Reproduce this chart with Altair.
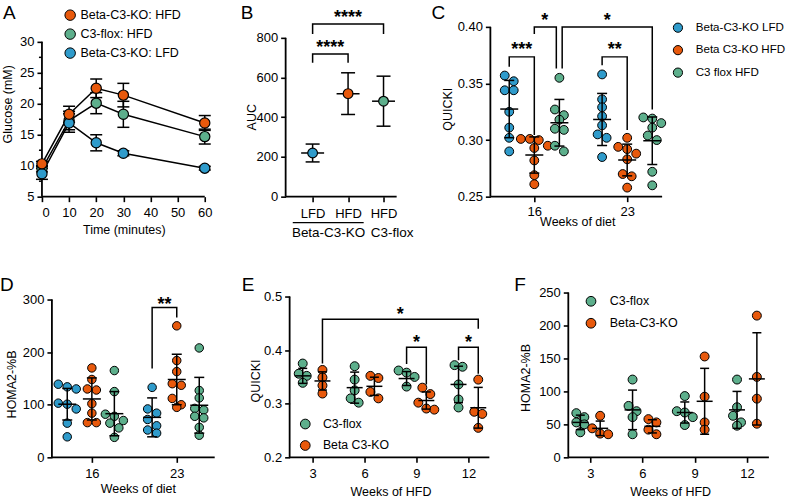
import altair as alt
import pandas as pd

FONT = "Liberation Sans"
BLUE, ORANGE, GREEN = "#2F9BCB", "#E8590C", "#5DAF8C"

# ---------------- Panel A : glucose tolerance ----------------
a_time = [0, 10, 20, 30, 60]
a_xticks = [0, 10, 20, 30, 40, 50, 60]
a_series = ["Beta-C3-KO: HFD", "C3-flox: HFD", "Beta-C3-KO: LFD"]
a_ko_hfd_mean = [10.3, 18.3, 22.5, 21.4, 16.9]
a_ko_hfd_sem = [0.4, 1.3, 1.5, 1.9, 1.2]
a_flox_hfd_mean = [9.5, 17.3, 20.1, 18.3, 14.7]
a_flox_hfd_sem = [0.5, 1.5, 1.7, 2.1, 1.2]
a_ko_lfd_mean = [8.7, 16.9, 13.7, 12.0, 9.6]
a_ko_lfd_sem = [0.9, 1.5, 1.3, 0.4, 0.3]

# ---------------- Panel B : AUC ----------------
b_labels = ["LFD", "HFD", "HFD"]
b_series = ["Beta-C3-KO: LFD", "Beta-C3-KO: HFD", "C3-flox: HFD"]
b_mean = [220, 519, 481]
b_sd = [45, 105, 126]
b_sig = ["****", "****"]

# ---------------- Panel C : QUICKI by diet ----------------
c_weeks = ["16", "23"]
c_series = ["Beta-C3-KO LFD", "Beta C3-KO HFD", "C3 flox HFD"]
c_ko_lfd_16 = [0.357, 0.352, 0.344, 0.344, 0.325, 0.311, 0.302, 0.290]
c_ko_hfd_16 = [0.301, 0.301, 0.300, 0.295, 0.293, 0.282, 0.269, 0.261]
c_flox_16 = [0.355, 0.327, 0.322, 0.318, 0.310, 0.309, 0.295, 0.290]
c_ko_lfd_23 = [0.358, 0.336, 0.329, 0.321, 0.313, 0.305, 0.302, 0.285]
c_ko_hfd_23 = [0.302, 0.294, 0.292, 0.288, 0.283, 0.270, 0.268, 0.258]
c_flox_23 = [0.320, 0.319, 0.315, 0.311, 0.304, 0.300, 0.272, 0.260]
c_mean = [0.3274, 0.2868, 0.3153, 0.3182, 0.2824, 0.2994]
c_sd = [0.0253, 0.0160, 0.0206, 0.0230, 0.0140, 0.0210]
c_sig = ["***", "*", "*", "**"]

# ---------------- Panel D : HOMA2-%B by diet ----------------
d_weeks = ["16", "23"]
d_ko_lfd_16 = [139, 134, 130, 103, 101, 92, 65, 39]
d_ko_hfd_16 = [170, 148, 130, 128, 102, 84, 66, 66]
d_flox_16 = [165, 125, 82, 78, 70, 65, 56, 38]
d_ko_lfd_23 = [133, 92, 84, 72, 60, 52, 46]
d_ko_hfd_23 = [250, 184, 163, 140, 137, 112, 100, 95]
d_flox_23 = [208, 127, 113, 93, 90, 78, 75, 57, 42]
d_mean = [101, 111, 83, 76, 148, 99]
d_sd = [30, 40, 42, 37, 48, 53]
d_sig = ["**"]

# ---------------- Panel E : QUICKI by weeks of HFD ----------------
e_weeks = ["3", "6", "9", "12"]
e_series = ["C3-flox", "Beta C3-KO"]
e_flox = [[0.375, 0.356, 0.352, 0.339], [0.370, 0.345, 0.325, 0.310, 0.302],
          [0.362, 0.358, 0.350, 0.332], [0.372, 0.369, 0.336, 0.308, 0.293]]
e_ko = [[0.363, 0.349, 0.334, 0.319], [0.352, 0.348, 0.322, 0.310],
        [0.330, 0.318, 0.302, 0.291, 0.289], [0.345, 0.285, 0.281, 0.255]]
e_flox_mean = [0.352, 0.330, 0.347, 0.336]
e_flox_sd = [0.014, 0.029, 0.013, 0.034]
e_ko_mean = [0.3425, 0.3325, 0.306, 0.2925]
e_ko_sd = [0.017, 0.017, 0.016, 0.038]
e_sig = ["*", "*", "*"]

# ---------------- Panel F : HOMA2-%B by weeks of HFD ----------------
f_weeks = ["3", "6", "9", "12"]
f_series = ["C3-flox", "Beta-C3-KO"]
f_flox = [[67, 61, 53, 50, 38], [118, 78, 70, 61, 35], [93, 70, 68, 61, 49], [118, 76, 63, 53, 48]]
f_ko = [[63, 44, 36, 35], [58, 53, 42, 35], [153, 92, 53, 42], [215, 122, 89, 51]]
f_flox_mean = [53, 72, 68, 72]
f_flox_sd = [11, 30, 16, 28]
f_ko_mean = [44, 47, 85, 119]
f_ko_sd = [11, 10, 50, 70]


# ---------------- helpers ----------------
def ax(**kw):
    base = dict(domain=False, grid=False, tickColor="black", tickWidth=1.6, tickSize=5,
                labelColor="black", labelFont=FONT, labelFontSize=13, titleFont=FONT,
                titleFontSize=12.5, titleFontWeight="normal", titleColor="black",
                titleBaseline="middle")
    base.update(kw)
    return alt.Axis(**base)


def swarm(vals, ppu_y, binh=7.0, sp=8.0):
    """GraphPad-like scatter: points closer than binh px share a row, spread symmetrically"""
    order = sorted(range(len(vals)), key=lambda i: -vals[i])
    offs = [0.0] * len(vals)
    groups, cur = [], []
    for i in order:
        if cur and (vals[cur[0]] - vals[i]) * ppu_y >= binh:
            groups.append(cur)
            cur = []
        cur.append(i)
    if cur:
        groups.append(cur)
    for g in groups:
        n = len(g)
        for k, i in enumerate(g):
            offs[i] = (k - (n - 1) / 2) * sp
    return offs


def scale(lo, hi):
    return alt.Scale(domain=[lo, hi], nice=False, zero=False)


class P:
    """holds a panel's scales and axes so every layer shares them"""
    def __init__(self, xs, ys, xa, ya):
        self.xs, self.ys, self.xa, self.ya = xs, ys, xa, ya

    def X(self, f):
        return alt.X(f, scale=self.xs, axis=self.xa)

    def Y(self, f):
        return alt.Y(f, scale=self.ys, axis=self.ya)


def axis_frame(p, x0, x1, y0, y1):
    df = pd.DataFrame({"x": [x0, x0], "x2": [x1, x0], "y": [y0, y0], "y2": [y0, y1]})
    return alt.Chart(df).mark_rule(color="black", strokeWidth=1.8).encode(
        x=p.X("x:Q"), x2="x2:Q", y=p.Y("y:Q"), y2="y2:Q")


def letter(t, dx, dy):
    return alt.Chart(pd.DataFrame({"t": [t]})).mark_text(
        font=FONT, fontSize=19, align="left", baseline="alphabetic", color="black"
    ).encode(x=alt.value(dx), y=alt.value(dy), text="t:N")


def brackets_layer(p, xs_list, ys_list):
    rows = []
    for bi, (bx, by) in enumerate(zip(xs_list, ys_list)):
        for oi, (px, py) in enumerate(zip(bx, by)):
            rows.append({"bx": px, "by": py, "bid": bi, "ord": oi})
    return alt.Chart(pd.DataFrame(rows)).mark_line(color="black", strokeWidth=1.5).encode(
        x=p.X("bx:Q"), y=p.Y("by:Q"), detail="bid:N", order="ord:Q")


def stars_layer(p, sx, sy, st):
    return alt.Chart(pd.DataFrame({"sx": sx, "sy": sy, "st": st})).mark_text(
        font=FONT, fontSize=18, fontWeight="bold", align="center", baseline="alphabetic",
        color="black").encode(x=p.X("sx:Q"), y=p.Y("sy:Q"), text="st:N")


def tick(p, df, yf, w, xf="x:Q"):
    return alt.Chart(df).mark_tick(orient="horizontal", size=w, thickness=1.5, color="black",
                                   opacity=1).encode(x=p.X(xf), y=p.Y(yf))


def scatter_panel(p, pts, summ, fill_scale, legend, w, h, frame, size,
                  mean_w=18, cap_w=10, extra=()):
    points = alt.Chart(pts).mark_circle(size=size, stroke="black", strokeWidth=1, opacity=1).encode(
        x=p.X("x:Q"), y=p.Y("v:Q"), fill=alt.Fill("grp:N", scale=fill_scale, legend=legend))
    err = alt.Chart(summ).mark_rule(color="black", strokeWidth=1.5).encode(
        x=p.X("x:Q"), y=p.Y("lo:Q"), y2="hi:Q")
    return alt.layer(frame, points, err, tick(p, summ, "lo:Q", cap_w), tick(p, summ, "hi:Q", cap_w),
                     tick(p, summ, "mean:Q", mean_w), *extra).properties(width=w, height=h)


def build_points(groups, centers, ppu_x, ppu_y, names, sp=8.0):
    rows = []
    for vals, cx, nm in zip(groups, centers, names):
        offs = swarm(vals, ppu_y, sp=sp)
        for v, o in zip(vals, offs):
            rows.append({"x": cx + o / ppu_x, "v": v, "grp": nm})
    return pd.DataFrame(rows)


def build_summary(means, sds, centers, names):
    return pd.DataFrame({"x": centers, "mean": means,
                         "lo": [m - s for m, s in zip(means, sds)],
                         "hi": [m + s for m, s in zip(means, sds)], "grp": names})


def legend(x, y, size, row_pad, off, fs=12.5):
    return alt.Legend(orient="none", legendX=x, legendY=y, title=None, symbolType="circle",
                      symbolSize=size, symbolStrokeColor="black", symbolStrokeWidth=1,
                      symbolOpacity=1, labelFont=FONT, labelFontSize=fs, labelColor="black",
                      rowPadding=row_pad, labelOffset=off, padding=0)


# layout: column origins 42 / 286 / 491, row origins 26 / 292
W1, W2, W3 = 244, 205, 279
H1, H2 = 170, 165

# ================= Panel A =================
pA = P(scale(0, W1 / 2.717), scale(5, 32.42),
       ax(values=a_xticks, title="Time (minutes)", titleX=82, titleY=33,
          labelBaseline="middle", labelPadding=11),
       ax(values=[5, 10, 15, 20, 25, 30], title="Glucose (mM)", titleX=-34, titleY=77,
          labelPadding=3))
rowsA = []
for nm, mm, ss in [(a_series[1], a_flox_hfd_mean, a_flox_hfd_sem),
                   (a_series[2], a_ko_lfd_mean, a_ko_lfd_sem),
                   (a_series[0], a_ko_hfd_mean, a_ko_hfd_sem)]:
    for t, m, s in zip(a_time, mm, ss):
        rowsA.append({"x": t, "grp": nm, "mean": m, "lo": m - s, "hi": m + s})
dfA = pd.DataFrame(rowsA)
A_minor = alt.Chart(pd.DataFrame({"mx": [0] * 5, "my": [7.5, 12.5, 17.5, 22.5, 27.5]})).mark_tick(
    orient="horizontal", size=3, thickness=1.5, xOffset=-1.5, color="black", opacity=1).encode(
    x=pA.X("mx:Q"), y=pA.Y("my:Q"))
A_line = alt.Chart(dfA).mark_line(color="black", strokeWidth=1.5).encode(
    x=pA.X("x:Q"), y=pA.Y("mean:Q"), detail="grp:N")
A_err = alt.Chart(dfA).mark_rule(color="black", strokeWidth=1.5).encode(
    x=pA.X("x:Q"), y=pA.Y("lo:Q"), y2="hi:Q")
A_pts = alt.Chart(dfA).mark_circle(size=105, stroke="black", strokeWidth=1.2, opacity=1).encode(
    x=pA.X("x:Q"), y=pA.Y("mean:Q"),
    fill=alt.Fill("grp:N", scale=alt.Scale(domain=a_series, range=[ORANGE, GREEN, BLUE]),
                  legend=legend(22, -18, 110, 4, 4)))
chartA = alt.layer(axis_frame(pA, 0, 60, 5, 30), A_minor, A_line, A_err,
                   tick(pA, dfA, "lo:Q", 12), tick(pA, dfA, "hi:Q", 12), A_pts,
                   letter("A", -39, -7.4)).properties(width=W1, height=H1)

# ================= Panel B =================
pB = P(scale(-0.761, -0.761 + W2 / 35.5), scale(0, 855.3),
       ax(values=[0, 1, 2], labelExpr="datum.value == 0 ? 'LFD' : 'HFD'", title=None,
          labelBaseline="middle", labelPadding=12),
       ax(values=[0, 200, 400, 600, 800], title="AUC", titleX=-34, titleY=90, labelPadding=3))
dfB = build_summary(b_mean, b_sd, [0, 1, 2], b_series)
B_err = alt.Chart(dfB).mark_rule(color="black", strokeWidth=1.5).encode(
    x=pB.X("x:Q"), y=pB.Y("lo:Q"), y2="hi:Q")
B_pts = alt.Chart(dfB).mark_circle(size=95, stroke="black", strokeWidth=1.2, opacity=1).encode(
    x=pB.X("x:Q"), y=pB.Y("mean:Q"),
    fill=alt.Fill("grp:N", scale=alt.Scale(domain=b_series, range=[BLUE, ORANGE, GREEN]), legend=None))
B_grp = alt.Chart(pd.DataFrame({"gx": [0.45, 2.24], "gy": [-181, -181],
                                "gt": ["Beta-C3-KO", "C3-flox"]})).mark_text(
    font=FONT, fontSize=13.5, baseline="middle", align="center", color="black").encode(
    x=pB.X("gx:Q"), y=pB.Y("gy:Q"), text="gt:N")
B_ul = alt.Chart(pd.DataFrame({"ux": [-0.56], "ux2": [1.44], "uy": [-131]})).mark_rule(
    color="black", strokeWidth=1.2).encode(x=pB.X("ux:Q"), x2="ux2:Q", y=pB.Y("uy:Q"))
B_br = brackets_layer(pB, [[0, 0, 2, 2], [0, 0, 1, 1]], [[820, 870, 870, 820], [674, 719, 719, 674]])
B_st = stars_layer(pB, [1.0, 0.5], [872.5, 721.5], b_sig)
chartB = alt.layer(axis_frame(pB, -0.761, 2.37, 0, 800), B_br, B_st, B_err,
                   tick(pB, dfB, "lo:Q", 14), tick(pB, dfB, "hi:Q", 14), tick(pB, dfB, "mean:Q", 23),
                   B_pts, B_grp, B_ul, letter("B", -45, -7.4)).properties(width=W2, height=H1)

# ================= Panel C =================
pC = P(scale(-0.473, -0.473 + W3 / 93), scale(0.25, 0.40),
       ax(values=[0, 1], labelExpr="datum.value == 0 ? '16' : '23'", title="Weeks of diet",
          titleX=87, titleY=25, labelBaseline="middle", labelPadding=9.5),
       ax(values=[0.25, 0.30, 0.35, 0.40], format=".2f", title="QUICKI", titleX=-43, titleY=82,
          labelPadding=3))
c_centers = [-0.27, 0, 0.27, 0.73, 1.0, 1.27]
c_names = c_series * 2
ptsC = build_points([c_ko_lfd_16, c_ko_hfd_16, c_flox_16, c_ko_lfd_23, c_ko_hfd_23, c_flox_23],
                    c_centers, 93, 1133.3, c_names, sp=9)
sumC = build_summary(c_mean, c_sd, c_centers, c_names)
C_br = brackets_layer(pC, [[-0.27, -0.27, 0, 0], [0, 0, 0.237, 0.237], [0.30, 0.30, 1.27, 1.27],
                           [0.73, 0.73, 1.0, 1.0]],
                      [[0.3647, 0.3735, 0.3735, 0.3044], [0.3938, 0.40, 0.40, 0.3632],
                       [0.3632, 0.40, 0.40, 0.327], [0.3662, 0.3735, 0.3735, 0.3088]])
C_st = stars_layer(pC, [-0.135, 0.112, 0.785, 0.865], [0.3752, 0.4008, 0.4008, 0.3752], c_sig)
chartC = scatter_panel(pC, ptsC, sumC, alt.Scale(domain=c_series, range=[BLUE, ORANGE, GREEN]),
                       legend(182, -5, 85, 8.5, 12, 11.6), W3, H1,
                       axis_frame(pC, -0.473, 1.376, 0.25, 0.40), 78,
                       extra=(C_br, C_st, letter("C", -59, -7.4)))

# ================= Panel D =================
pD = P(scale(-0.588, -0.588 + W1 / 85), scale(0, 313.3),
       ax(values=[0, 1], labelExpr="datum.value == 0 ? '16' : '23'", title="Weeks of diet",
          titleX=96, titleY=31, labelBaseline="middle", labelPadding=11),
       ax(values=[0, 100, 200, 300], title="HOMA2-%B", titleX=-40, titleY=91.5, labelPadding=3,
          offset=-10))
d_centers = [-0.29, 0, 0.265, 0.71, 1.0, 1.265]
ptsD = build_points([d_ko_lfd_16, d_ko_hfd_16, d_flox_16, d_ko_lfd_23, d_ko_hfd_23, d_flox_23],
                    d_centers, 85, 0.5267, c_names, sp=9)
sumD = build_summary(d_mean, d_sd, d_centers, c_names)
D_br = brackets_layer(pD, [[0.71, 0.71, 1.0, 1.0]], [[169, 285, 285, 266]])
D_st = stars_layer(pD, [0.855], [281], d_sig)
chartD = scatter_panel(pD, ptsD, sumD, alt.Scale(domain=c_series, range=[BLUE, ORANGE, GREEN]),
                       None, W1, H2, axis_frame(pD, -0.4706, 1.447, 0, 300), 72,
                       extra=(D_br, D_st, letter("D", -42, -1.5)))

# ================= Panel E =================
pE = P(scale(-0.519, -0.519 + W2 / 52), scale(0.2, 0.50745),
       ax(values=[0, 1, 2, 3], labelExpr="['3','6','9','12'][datum.value]", title="Weeks of HFD",
          titleX=105, titleY=34.5, labelBaseline="middle", labelPadding=11),
       ax(values=[0.2, 0.3, 0.4, 0.5], format=".1f", title="QUICKI", titleX=-34, titleY=88,
          labelPadding=3, offset=-4))
e_groups, e_centers, e_names, e_means, e_sds = [], [], [], [], []
for i in range(4):
    e_groups += [e_flox[i], e_ko[i]]
    e_centers += [i - 0.19, i + 0.19]
    e_names += e_series
    e_means += [e_flox_mean[i], e_ko_mean[i]]
    e_sds += [e_flox_sd[i], e_ko_sd[i]]
ptsE = build_points(e_groups, e_centers, 52, 536.7, e_names, sp=8)
sumE = build_summary(e_means, e_sds, e_centers, e_names)
E_br = brackets_layer(pE, [[0.19, 0.19, 3.19, 3.19], [1.81, 1.81, 2.19, 2.19], [2.81, 2.81, 3.19, 3.19]],
                      [[0.375, 0.4575, 0.4575, 0.44], [0.374, 0.4055, 0.4055, 0.336],
                       [0.381, 0.4055, 0.4055, 0.356]])
E_st = stars_layer(pE, [1.69, 2.0, 3.0], [0.4569, 0.4048, 0.4048], e_sig)
chartE = scatter_panel(pE, ptsE, sumE, alt.Scale(domain=e_series, range=[GREEN, ORANGE]),
                       legend(13.5, 125.5, 95, 6.5, 11.5, 12.3), W2, H2,
                       axis_frame(pE, -0.442, 3.404, 0.2, 0.5), 80, mean_w=16, cap_w=9,
                       extra=(E_br, E_st, letter("E", -44, -1.5)))

# ================= Panel F =================
pF = P(scale(-1.912, -1.912 + W3 / 52.3), scale(0, 250),
       ax(values=[0, 1, 2, 3], labelExpr="['3','6','9','12'][datum.value]", title="Weeks of HFD",
          titleX=180, titleY=34.5, labelBaseline="middle", labelPadding=11),
       ax(values=[0, 50, 100, 150, 200, 250], title="HOMA2-%B", titleX=-43, titleY=85,
          labelPadding=3, offset=-78))
f_groups, f_centers, f_names, f_means, f_sds = [], [], [], [], []
for i in range(4):
    f_groups += [f_flox[i], f_ko[i]]
    f_centers += [i - 0.19, i + 0.19]
    f_names += f_series
    f_means += [f_flox_mean[i], f_ko_mean[i]]
    f_sds += [f_flox_sd[i], f_ko_sd[i]]
ptsF = build_points(f_groups, f_centers, 52.3, 0.66, f_names, sp=8)
sumF = build_summary(f_means, f_sds, f_centers, f_names)
chartF = scatter_panel(pF, ptsF, sumF, alt.Scale(domain=f_series, range=[GREEN, ORANGE]),
                       legend(94.5, 2.5, 95, 7, 12.5), W3, H2,
                       axis_frame(pF, -0.42, 3.42, 0, 250), 80, mean_w=16, cap_w=9,
                       extra=(letter("F", 24, -1.5),))

chart = alt.concat(chartA, chartB, chartC, chartD, chartE, chartF, columns=3,
                   spacing={"row": 96, "column": 0}, bounds="flush").resolve_scale(
    x="independent", y="independent", fill="independent").resolve_legend(fill="independent").properties(
    padding={"left": 0, "top": 3.6, "right": 0, "bottom": 0}).configure(font=FONT).configure_view(stroke=None)

chart.save("out.html", embed_options={"renderer": "svg", "actions": False})
